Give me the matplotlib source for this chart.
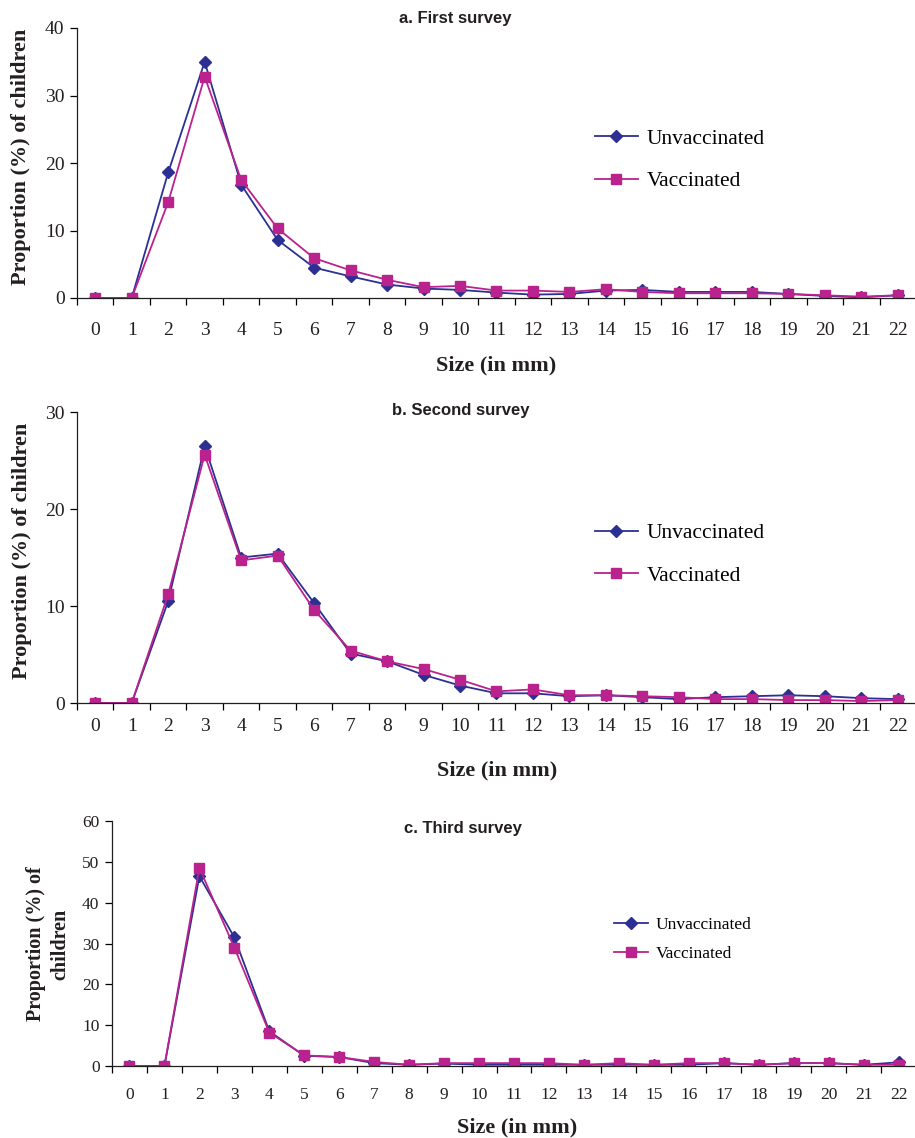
import numpy as np
import matplotlib
matplotlib.use('Agg')
import matplotlib.pyplot as plt

sizes = list(range(23))

# a. First survey
unvac_a = [0, 0, 18.6, 35.0, 16.8, 8.6, 4.5, 3.2, 2.0, 1.4, 1.2, 0.8, 0.5, 0.6, 1.1, 1.2, 0.9, 0.9, 0.9, 0.6, 0.3, 0.1, 0.4]
vac_a = [0, 0, 14.2, 32.8, 17.5, 10.3, 5.9, 4.1, 2.7, 1.6, 1.8, 1.1, 1.1, 0.9, 1.3, 0.9, 0.7, 0.7, 0.7, 0.6, 0.4, 0.2, 0.4]

# b. Second survey
unvac_b = [0, 0, 10.5, 26.5, 15.0, 15.4, 10.3, 5.1, 4.3, 2.9, 1.8, 1.0, 1.0, 0.7, 0.8, 0.6, 0.4, 0.6, 0.7, 0.8, 0.7, 0.5, 0.4]
vac_b = [0, 0, 11.2, 25.6, 14.7, 15.2, 9.6, 5.4, 4.3, 3.5, 2.4, 1.2, 1.4, 0.8, 0.8, 0.7, 0.6, 0.4, 0.4, 0.3, 0.3, 0.2, 0.3]

# c. Third survey
unvac_c = [0, 0, 46.5, 31.5, 8.5, 2.5, 2.2, 0.7, 0.3, 0.6, 0.3, 0.3, 0.3, 0.3, 0.3, 0.3, 0.3, 0.7, 0.3, 0.7, 0.7, 0.3, 0.9]
vac_c = [0, 0, 48.5, 29.0, 8.2, 2.6, 2.2, 1.0, 0.3, 0.7, 0.7, 0.7, 0.7, 0.3, 0.7, 0.3, 0.7, 0.7, 0.3, 0.7, 0.7, 0.3, 0.3]

titles = ['a. First survey', 'b. Second survey', 'c. Third survey']
ylims = [40, 30, 60]
ysteps = [10, 10, 10]

navy = '#2B3092'
magenta = '#BA228E'
ink = '#231f20'
serif = ['Liberation Serif', 'DejaVu Serif']
sans = ['Liberation Sans', 'DejaVu Sans']

W, H = 915, 1138
fig = plt.figure(figsize=(W / 100, H / 100), dpi=100)


def frac(left_px, top_px, right_px, bottom_px):
    return [left_px / W, 1 - bottom_px / H, (right_px - left_px) / W, (bottom_px - top_px) / H]


panels = [
    dict(box=frac(77, 28, 916, 298), un=unvac_a, va=vac_a, fs=14, xpad=17, lfs=15.5, ms=(6.5, 7.5),
         leg=(0.617, 0.627), lsp=1.05, title_xy=(455, 19), xlab=(496, 365),
         ylab=('Proportion (%) of children', 21, 157, 16)),
    dict(box=frac(77, 412, 916, 703), un=unvac_b, va=vac_b, fs=14, xpad=11, lfs=15.5, ms=(6.5, 7.5),
         leg=(0.617, 0.618), lsp=1.05, title_xy=(461, 410), xlab=(497, 770),
         ylab=('Proportion (%) of children', 22, 551, 16)),
    dict(box=frac(112, 821, 916, 1066), un=unvac_c, va=vac_c, fs=12.5, xpad=15, lfs=12.5, ms=(6, 7),
         leg=(0.624, 0.609), lsp=0.75, title_xy=(463, 829), xlab=(517, 1127),
         ylab=('Proportion (%) of\nchildren', 48, 944, 14.5)),
]

for i, p in enumerate(panels):
    ax = fig.add_axes(p['box'])
    ax.plot(sizes, p['un'], color=navy, marker='D', ms=p['ms'][0], lw=1.3, label='Unvaccinated')
    ax.plot(sizes, p['va'], color=magenta, marker='s', ms=p['ms'][1], lw=1.3, label='Vaccinated')
    ax.set_xlim(-0.5, 22.35)
    ax.set_ylim(0, ylims[i])
    ax.set_yticks(np.arange(0, ylims[i] + 1, ysteps[i]))
    ax.set_xticks(sizes)
    ax.set_xticks(np.arange(-0.5, 22.6, 1), minor=True)
    ax.tick_params(axis='x', which='major', length=0, pad=p['xpad'], labelsize=p['fs'])
    ax.tick_params(axis='x', which='minor', length=5, direction='out', width=0.9)
    ax.tick_params(axis='y', length=5, direction='out', width=0.9, labelsize=p['fs'], pad=4)
    for lab in ax.get_xticklabels() + ax.get_yticklabels():
        lab.set_family(serif)
        lab.set_color(ink)
    for s in ['top', 'right']:
        ax.spines[s].set_visible(False)
    for s in ['left', 'bottom']:
        ax.spines[s].set_linewidth(0.9)
        ax.spines[s].set_color(ink)
    ax.legend(loc='upper left', bbox_to_anchor=p['leg'], frameon=False,
              prop={'family': serif, 'size': p['lfs']}, handlelength=2.0,
              handletextpad=0.4, labelspacing=p['lsp'], borderaxespad=0, borderpad=0)
    tx, ty = p['title_xy']
    fig.text(tx / W, 1 - ty / H, titles[i], ha='center', va='center', fontsize=12,
             fontweight='bold', family=sans, color=ink)
    lx, ly = p['xlab']
    fig.text(lx / W, 1 - ly / H, 'Size (in mm)', ha='center', va='center', fontsize=16,
             fontweight='bold', family=serif, color=ink)
    txt, yx, yy, yfs = p['ylab']
    fig.text(yx / W, 1 - yy / H, txt, ha='center', va='center', rotation=90, fontsize=yfs,
             fontweight='bold', family=serif, color=ink, linespacing=1.3)

fig.savefig('out.png', dpi=100)
